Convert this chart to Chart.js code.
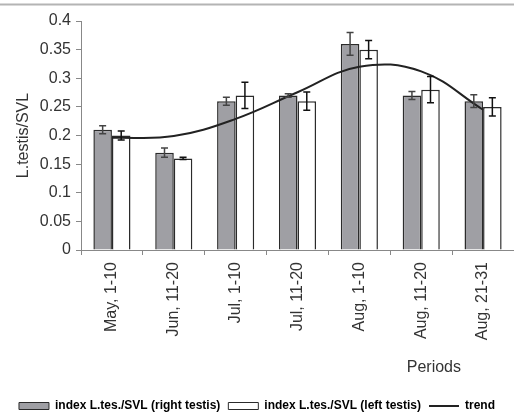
<!DOCTYPE html>
<html>
<head>
<meta charset="utf-8">
<script src="https://cdn.jsdelivr.net/npm/chart.js@4/dist/chart.umd.min.js"></script>
<style>
  html, body { margin: 0; padding: 0; background: #fff; }
  #wrap { width: 514px; height: 415px; position: relative; }
</style>
</head>
<body>
<div id="wrap"><canvas id="c" width="514" height="415"></canvas></div>
<script>
// Ten-day periods of the breeding season
const periods = ['May, 1-10', 'Jun, 11-20', 'Jul, 1-10', 'Jul, 11-20', 'Aug, 1-10', 'Aug, 11-20', 'Aug, 21-31'];

// Testis length / snout-vent length index, means and errors
const rightTestis = [0.21, 0.17, 0.26, 0.27, 0.36, 0.27, 0.26];
const rightErr    = [0.007, 0.008, 0.007, 0.003, 0.02, 0.007, 0.011];
const leftTestis  = [0.20, 0.16, 0.27, 0.26, 0.35, 0.28, 0.25];
const leftErr     = [0.008, 0.002, 0.023, 0.016, 0.016, 0.023, 0.016];

// Smoothed seasonal trend
const trend = [0.196, 0.199, 0.229, 0.2755, 0.320, 0.312, 0.245];

const yTickLabels = ['0', '0.05', '0.1', '0.15', '0.2', '0.25', '0.3', '0.35', '0.4'];

const FONT = "'Liberation Sans', Arial, sans-serif";
const TEXT = '#333';

const errorBars = {
  id: 'errorBars',
  afterDatasetsDraw(chart) {
    const ctx = chart.ctx;
    const y = chart.scales.y;
    chart.data.datasets.forEach((ds, i) => {
      if (!ds.errors) return;
      const meta = chart.getDatasetMeta(i);
      ctx.save();
      ctx.strokeStyle = ds.errorColor;
      ctx.lineWidth = 1.5;
      meta.data.forEach((bar, j) => {
        const v = ds.data[j], e = ds.errors[j];
        const yt = y.getPixelForValue(v + e);
        const yb = y.getPixelForValue(v - e);
        const x = bar.x, cap = 3.5;
        ctx.beginPath();
        ctx.moveTo(x, yt); ctx.lineTo(x, yb);
        ctx.moveTo(x - cap, yt); ctx.lineTo(x + cap, yt);
        ctx.moveTo(x - cap, yb); ctx.lineTo(x + cap, yb);
        ctx.stroke();
      });
      ctx.restore();
    });
  }
};

const decorations = {
  id: 'decorations',
  afterLayout(chart) {
    // sit the legend row a little lower, near the bottom edge
    if (chart.legend) {
      chart.legend.top += 7;
      chart.legend.bottom += 7;
    }
  },
  afterDraw(chart) {
    const ctx = chart.ctx;
    const a = chart.chartArea;
    ctx.save();
    // frame line along the top
    ctx.strokeStyle = '#b4b4b4';
    ctx.lineWidth = 2;
    ctx.beginPath();
    ctx.moveTo(0, 4.5); ctx.lineTo(chart.width, 4.5);
    ctx.stroke();
    // x-axis title
    ctx.fillStyle = TEXT;
    ctx.font = "16px " + FONT;
    ctx.textAlign = 'center';
    ctx.textBaseline = 'middle';
    ctx.fillText('Periods', a.left + (a.right - a.left) * 0.815, 368);
    ctx.restore();
  }
};

new Chart(document.getElementById('c'), {
  type: 'bar',
  data: {
    labels: periods,
    datasets: [
      {
        label: 'index L.tes./SVL (right testis)',
        data: rightTestis,
        errors: rightErr,
        errorColor: '#444',
        backgroundColor: '#9f9fa4',
        borderColor: '#2b2b2b',
        borderWidth: 1.5,
        categoryPercentage: 0.6,
        barPercentage: 1.0,
        order: 1
      },
      {
        label: 'index L.tes./SVL (left testis)',
        data: leftTestis,
        errors: leftErr,
        errorColor: '#111',
        backgroundColor: '#ffffff',
        borderColor: '#2b2b2b',
        borderWidth: 1.5,
        categoryPercentage: 0.6,
        barPercentage: 1.0,
        order: 1
      },
      {
        type: 'line',
        label: 'trend',
        data: trend,
        borderColor: '#222',
        borderWidth: 2,
        pointRadius: 0,
        tension: 0.4,
        fill: false,
        order: -1
      }
    ]
  },
  options: {
    responsive: false,
    animation: false,
    devicePixelRatio: 1,
    layout: { padding: { top: 21, right: 0, left: 0, bottom: 0 } },
    plugins: {
      tooltip: { enabled: false },
      legend: {
        position: 'bottom',
        labels: {
          usePointStyle: true,
          pointStyleWidth: 30,
          boxHeight: 7,
          padding: 8,
          color: '#222',
          font: { family: FONT, size: 12, weight: 'bold' },
          generateLabels() {
            return [
              { text: 'index L.tes./SVL (right testis)', fillStyle: '#9f9fa4', strokeStyle: '#2b2b2b', lineWidth: 1, pointStyle: 'rect', datasetIndex: 0, hidden: false },
              { text: 'index L.tes./SVL (left testis)', fillStyle: '#ffffff', strokeStyle: '#2b2b2b', lineWidth: 1, pointStyle: 'rect', datasetIndex: 1, hidden: false },
              { text: 'trend', fillStyle: '#222', strokeStyle: '#222', lineWidth: 2, pointStyle: 'line', datasetIndex: 2, hidden: false }
            ];
          }
        }
      }
    },
    scales: {
      x: {
        offset: true,
        grid: { offset: true, drawOnChartArea: false, tickLength: 5, color: '#888' },
        border: { color: '#888', width: 1 },
        ticks: {
          minRotation: 90, maxRotation: 90, padding: 7,
          color: TEXT, font: { family: FONT, size: 16 }
        },
        afterFit(scale) {
          const lh = scale.chart.legend ? scale.chart.legend.height : 30;
          scale.height = 415 - 250 - lh;
        }
      },
      y: {
        min: 0, max: 0.4,
        grid: { drawOnChartArea: false, tickLength: 5, color: '#888' },
        border: { color: '#888', width: 1 },
        ticks: {
          stepSize: 0.05, padding: 5,
          color: TEXT, font: { family: FONT, size: 16 },
          callback: (v, i) => yTickLabels[i]
        },
        title: {
          display: true, text: 'L.testis/SVL',
          color: TEXT, font: { family: FONT, size: 16 },
          padding: { top: 14, bottom: 0 }
        },
        afterFit(scale) { scale.width = 81; }
      }
    }
  },
  plugins: [errorBars, decorations]
});
</script>
</body>
</html>
